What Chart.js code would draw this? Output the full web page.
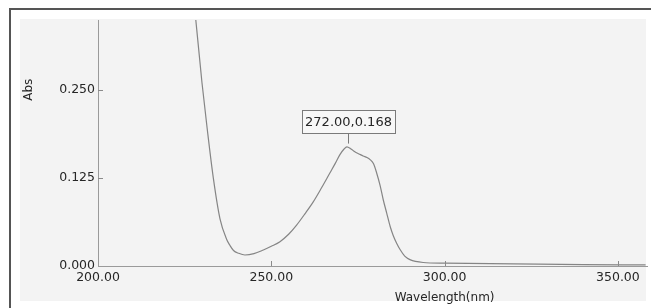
<!DOCTYPE html>
<html>
<head>
<meta charset="utf-8">
<script src="https://cdn.jsdelivr.net/npm/chart.js@4.4.0/dist/chart.umd.min.js"></script>
<style>
    html, body { margin: 0; padding: 0; background: #fff; }
    #wrap { position: relative; width: 651px; height: 308px; overflow: hidden; }
    #frame { position: absolute; left: 9px; top: 8px; right: -4px; bottom: -4px;
             border-left: 2px solid #555; border-top: 2px solid #555; }
    #paper { position: absolute; left: 20px; top: 19px; width: 626px; height: 282px; background: #f3f3f3; }
    #chart { position: absolute; left: 0; top: 0; }
</style>
</head>
<body>
<div id="wrap">
    <div id="paper"></div>
    <div id="frame"></div>
    <canvas id="chart" width="651" height="308"></canvas>
</div>
<script>
// spectrum
const wavelengths = [226, 228, 230, 231.5, 233.3, 235.2, 237.1, 238.1, 239.1, 240.6, 242.4, 245, 247.7,
    250, 252.5, 255, 257.3, 259.7, 262.1, 264.5, 266.9, 268.5, 269.8, 271, 271.8, 273, 274.1, 275.3,
    276.5, 277.6, 278.5, 279.5, 280.4, 281.4, 282.3, 283.3, 284.3, 285.2, 286.2, 287.2, 288.5, 290,
    293.8, 300, 320, 340, 358];
const absorbance = [0.45, 0.36, 0.26, 0.195, 0.124, 0.067, 0.038, 0.029, 0.022, 0.018, 0.0156, 0.0175, 0.0227,
    0.028, 0.0345, 0.045, 0.058, 0.074, 0.091, 0.111, 0.132, 0.146, 0.158, 0.166, 0.169, 0.166, 0.162, 0.159,
    0.156, 0.154, 0.151, 0.145, 0.132, 0.114, 0.094, 0.075, 0.056, 0.043, 0.032, 0.023, 0.014, 0.009,
    0.005, 0.004, 0.003, 0.002, 0.0015];
const xTicks = [200, 250, 300, 350];
const yTicks = [0, 0.125, 0.25];
const peak = { x: 272, y: 0.168, label: '272.00,0.168' };

const FONT = 'DejaVu Sans, Verdana, sans-serif';
const INK = '#262626';

const decor = {
    id: 'decor',
    afterDraw(chart) {
        const ctx = chart.ctx;
        const xs = chart.scales.x, ys = chart.scales.y;
        const area = chart.chartArea;
        ctx.save();
        // inward ticks
        ctx.strokeStyle = '#8a8a8a';
        ctx.lineWidth = 1;
        ctx.beginPath();
        xTicks.slice(1).forEach(v => {
            const px = Math.round(xs.getPixelForValue(v)) + 0.5;
            ctx.moveTo(px, area.bottom);
            ctx.lineTo(px, area.bottom - 5);
        });
        yTicks.slice(1).forEach(v => {
            const py = Math.round(ys.getPixelForValue(v)) + 0.5;
            ctx.moveTo(area.left, py);
            ctx.lineTo(area.left + 5, py);
        });
        ctx.stroke();

        // axis titles
        ctx.fillStyle = INK;
        ctx.font = '12px ' + FONT;
        ctx.textAlign = 'center';
        ctx.textBaseline = 'middle';
        ctx.fillText('Wavelength(nm)', xs.getPixelForValue(300), 298);
        ctx.save();
        ctx.translate(29, ys.getPixelForValue(0.25));
        ctx.rotate(-Math.PI / 2);
        ctx.font = '12px ' + FONT;
        ctx.fillText('Abs', 0, 0);
        ctx.restore();

        // peak label
        const px = Math.round(xs.getPixelForValue(peak.x)) + 0.5;
        const py = ys.getPixelForValue(peak.y);
        ctx.font = '13px ' + FONT;
        const w = Math.round(ctx.measureText(peak.label).width + 6);
        const h = 23;
        const bottom = Math.round(py - 15);
        const left = Math.round(px - w / 2) + 0.5;
        ctx.fillStyle = '#f7f7f7';
        ctx.fillRect(left, bottom - h, w, h);
        ctx.strokeStyle = '#7a7a7a';
        ctx.strokeRect(left, bottom - h + 0.5, w, h);
        ctx.beginPath();
        ctx.moveTo(px, bottom);
        ctx.lineTo(px, py - 4);
        ctx.stroke();
        ctx.fillStyle = INK;
        ctx.fillText(peak.label, px, bottom - h / 2 + 1);
        ctx.restore();
    }
};

new Chart(document.getElementById('chart'), {
    type: 'line',
    data: {
        datasets: [{
            data: wavelengths.map((w, i) => ({ x: w, y: absorbance[i] })),
            borderColor: '#858585',
            borderWidth: 1.2,
            pointRadius: 0,
            cubicInterpolationMode: 'monotone',
            fill: false
        }]
    },
    options: {
        responsive: false,
        animation: false,
        layout: { padding: { left: 0, top: 20, right: 4, bottom: 0 } },
        plugins: { legend: { display: false }, tooltip: { enabled: false } },
        scales: {
            x: {
                type: 'linear',
                min: 200,
                max: 358.4,
                afterBuildTicks: s => { s.ticks = xTicks.map(v => ({ value: v })); },
                afterFit: s => { s.height = 42; },
                grid: { drawOnChartArea: false, drawTicks: false },
                border: { color: '#9a9a9a', width: 1 },
                ticks: {
                    padding: 4,
                    color: INK,
                    font: { family: FONT, size: 12.5 },
                    callback: v => v.toFixed(2)
                }
            },
            y: {
                min: 0,
                max: 0.349,
                afterBuildTicks: s => { s.ticks = yTicks.map(v => ({ value: v })); },
                afterFit: s => { s.width = 98; },
                grid: { drawOnChartArea: false, drawTicks: false },
                border: { color: '#9a9a9a', width: 1 },
                ticks: {
                    padding: 3,
                    color: INK,
                    font: { family: FONT, size: 12.5 },
                    callback: v => v.toFixed(3)
                }
            }
        }
    },
    plugins: [decor]
});
</script>
</body>
</html>
